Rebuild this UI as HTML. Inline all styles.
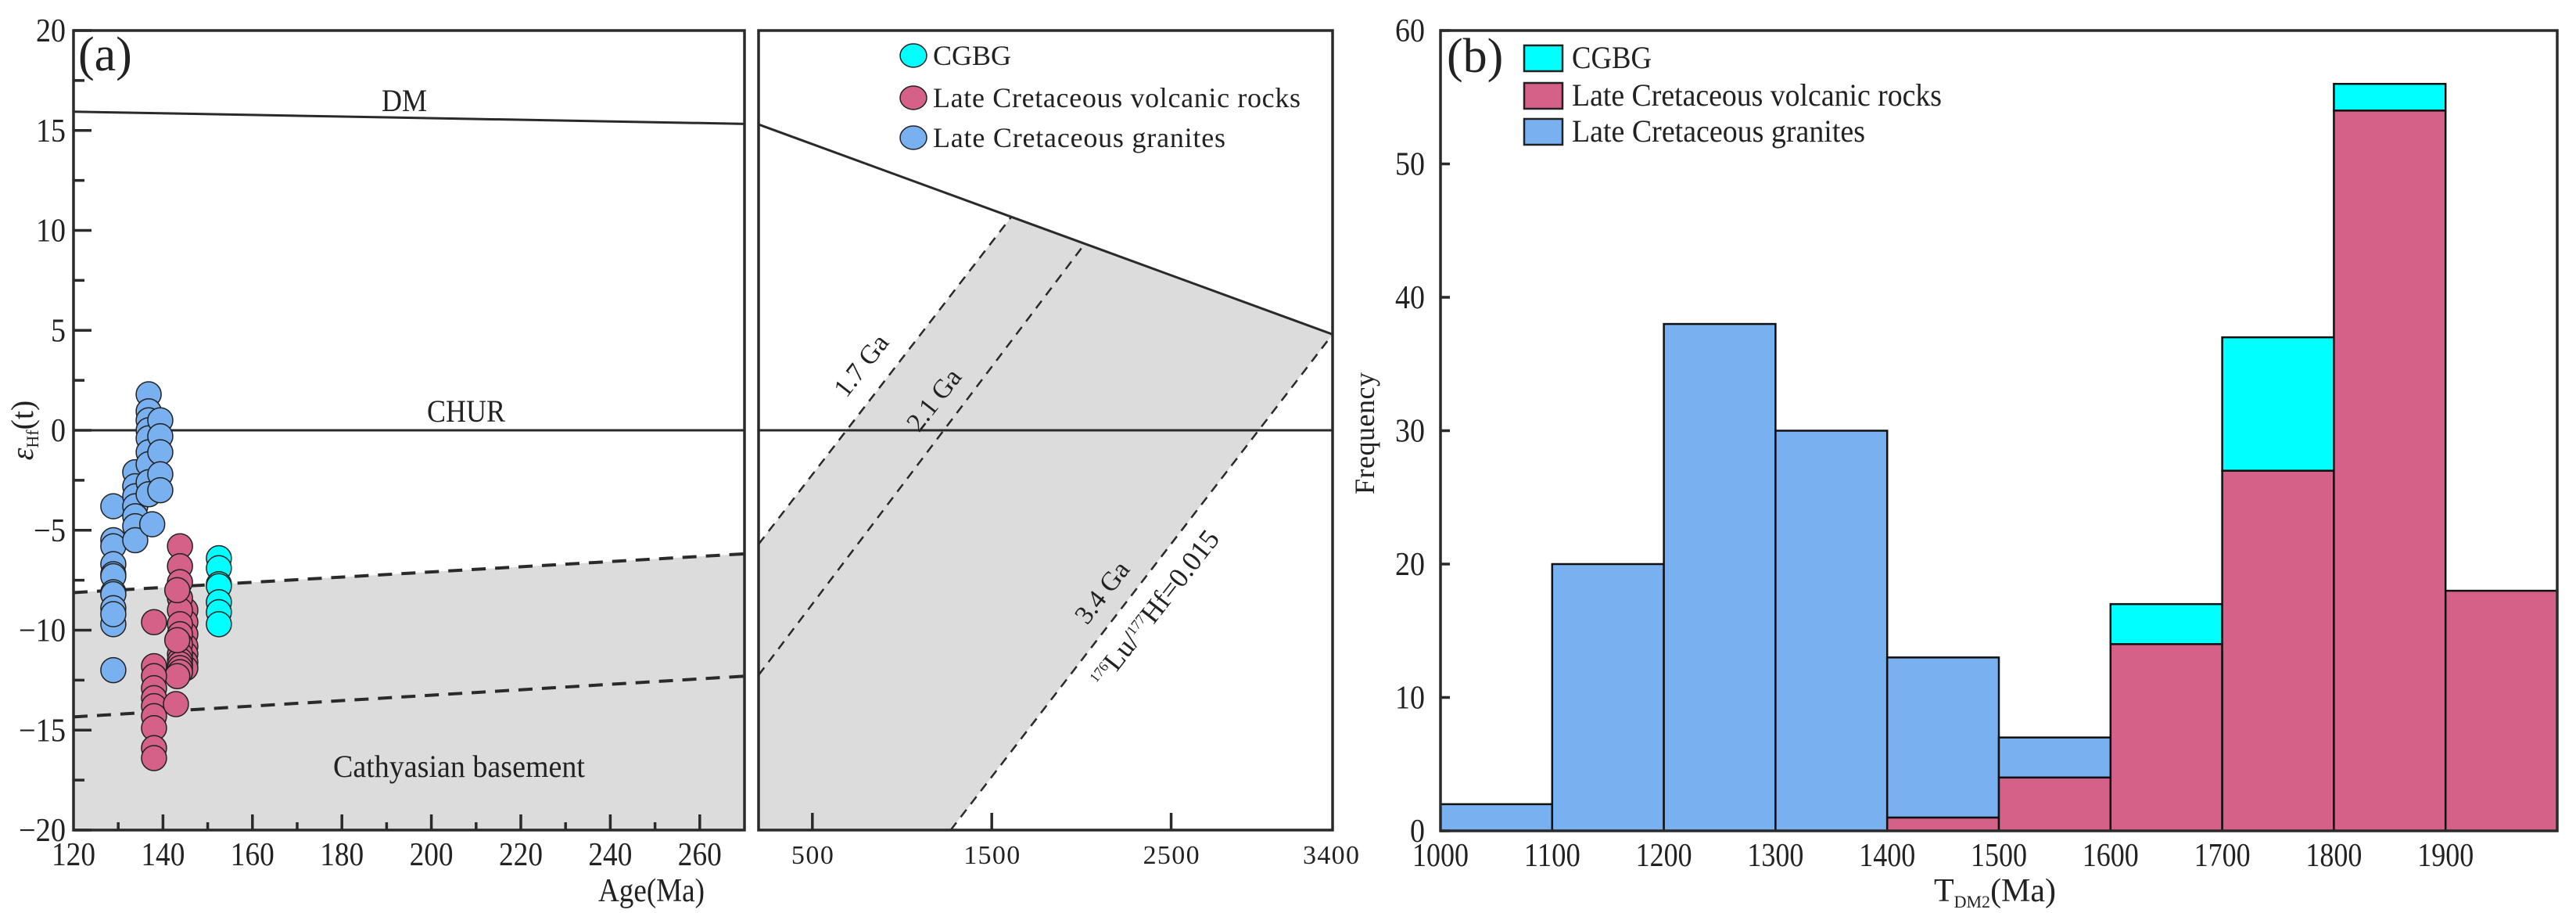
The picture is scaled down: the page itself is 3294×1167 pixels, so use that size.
<!DOCTYPE html>
<html><head><meta charset="utf-8"><style>
html,body{margin:0;padding:0;background:#fff;}
svg{display:block;font-family:"Liberation Serif",serif;}
</style></head><body>
<svg id="chart" width="3294" height="1167" viewBox="0 0 3294 1167" xmlns="http://www.w3.org/2000/svg">
<g id="pa1"></g>
<g id="pa2"></g>
<g id="pb"></g>
</svg>
<script>
// ---------- Panel (a) data ----------
const graniteAge = [128.9,128.9,128.9,128.9,128.9,128.9,128.9,128.9,128.9,128.9,128.9,128.9,
  133.8,133.8,133.8,133.8,133.8,133.8,133.8,
  136.8,136.8,136.8,136.8,136.8,136.8,136.8,136.8,136.8,
  139.4,139.4,139.4,139.4,139.4, 137.6];
const graniteEHf = [-3.8,-5.5,-5.8,-6.7,-7.2,-7.3,-8.1,-8.2,-8.9,-9.7,-9.2,-12.0,
  -2.1,-2.8,-3.3,-3.8,-4.3,-4.8,-5.5,
  1.8,0.95,0.5,0,-0.4,-1.1,-1.7,-2.6,-3.2,
  0.5,-0.3,-1.1,-2.2,-3.0, -4.7];
const volcAge = [145.0,145.0,145.0,145.0,145.0,145.0,145.0,
  143.8,143.8,143.8,143.8,143.8,143.8,143.8,143.8,143.8,143.8,143.8,143.8,143.8,
  143.2,143.2,143.2,
  138.0,138.0,138.0,138.0,138.0,138.0,138.0,138.0,138.0,138.0, 142.9];
const volcEHf = [-9.0,-9.6,-10.2,-10.8,-11.2,-11.6,-11.9,
  -5.8,-6.8,-7.6,-8.4,-9.0,-9.7,-10.2,-10.7,-11.2,-11.5,-11.7,-11.9,-12.1,
  -8.0,-10.5,-12.3,
  -9.6,-11.8,-12.3,-12.9,-13.4,-13.8,-14.3,-14.9,-15.9,-16.4, -13.7];
const cgbgAge = [152.5,152.5,152.5,152.5,152.5,152.5,152.5];
const cgbgEHf = [-6.4,-6.9,-7.7,-7.8,-8.6,-9.1,-9.7];
const dmLeft = [[120,15.94],[270,15.33]];
const dmRight = [[200,15.3],[3400,4.8]];
const upperDash = [[120,-8.12],[270,-6.18]];
const lowerDash = [[120,-14.34],[270,-12.3]];
const line17 = [[200,-5.7],[1611,10.7]];
const line21 = [[200,-12.25],[2016,9.3]];
const line34 = [[1271,-20],[3400,4.8]];
const yTicksA = [-20,-15,-10,-5,0,5,10,15,20];
const xTicksA1 = [120,140,160,180,200,220,240,260];
const xTicksA2 = [500,1500,2500];
const xLabelsA2 = [500,1500,2500,3400];
// ---------- Panel (b) data ----------
const binStarts = [1000,1100,1200,1300,1400,1500,1600,1700,1800,1900];
const volcCounts = [0,0,0,0,1,4,14,27,54,18];
const graniteCounts = [2,20,38,30,12,3,0,0,0,0];
const cgbgCounts = [0,0,0,0,0,0,3,10,2,0];
const yTicksB = [0,10,20,30,40,50,60];
const xLabelsB = [1000,1100,1200,1300,1400,1500,1600,1700,1800,1900];

const NS="http://www.w3.org/2000/svg";
const C_BLUE="#78b0f0", C_RED="#d56088", C_CYAN="#00ffff", C_GRAY="#dcdcdc", C_AX="#2a2a2a";
function el(parent,tag,attrs){const e=document.createElementNS(NS,tag);for(const k in attrs)e.setAttribute(k,attrs[k]);parent.appendChild(e);return e;}
function txt(parent,x,y,s,size,anchor,extra){const t=el(parent,'text',Object.assign({x:x,y:y,'font-size':size,'text-anchor':anchor||'start',fill:'#222'},extra||{}));t.textContent=s;return t;}

const Y0=39, Y1=1061;
const ya=v=>Y0+(20-v)/40*(Y1-Y0);
const xa1=v=>94+(v-120)/150*(952-94);
const xa2=v=>970+(v-200)/3200*(1704-970);

// ===== Panel a1 =====
const g1=document.getElementById('pa1');
let p=el(g1,'polygon',{points:[[xa1(upperDash[0][0]),ya(upperDash[0][1])],[xa1(upperDash[1][0]),ya(upperDash[1][1])],[xa1(270),ya(-20)],[xa1(120),ya(-20)]].map(a=>a.join(',')).join(' '),fill:C_GRAY});


function line(g,pts,fx,dash,w,name){const l=el(g,'line',{x1:fx(pts[0][0]),y1:ya(pts[0][1]),x2:fx(pts[1][0]),y2:ya(pts[1][1]),stroke:C_AX,'stroke-width':w});if(dash)l.setAttribute('stroke-dasharray',dash);

return l;}
line(g1,dmLeft,xa1,null,3,'dm-line');
line(g1,[[120,0],[270,0]],xa1,null,3,'chur-line');
line(g1,upperDash,xa1,'18,12',4,'upper-basement-line');
line(g1,lowerDash,xa1,'18,12',4,'lower-basement-line');
function dots(g,xs,ys,color,name){for(let i=0;i<xs.length;i++){const c=el(g,'circle',{cx:xa1(xs[i]),cy:ya(ys[i]),r:16,fill:color,stroke:'#222','stroke-width':1.5});

}}
dots(g1,graniteAge,graniteEHf,C_BLUE,'granite-point');
dots(g1,volcAge,volcEHf,C_RED,'volcanic-point');
dots(g1,cgbgAge,cgbgEHf,C_CYAN,'cgbg-point');
el(g1,'rect',{x:94,y:Y0,width:858,height:Y1-Y0,fill:'none',stroke:C_AX,'stroke-width':3.5});
for(let v=-20;v<=20;v+=2.5){const major=yTicksA.includes(v);el(g1,'line',{x1:94,y1:ya(v),x2:94+(major?23:14),y2:ya(v),stroke:C_AX,'stroke-width':3.5});}
yTicksA.forEach(v=>{const s=(v<0?'\u2212':'')+Math.abs(v);const t=txt(g1,84,ya(v)+14,s,42,'end',{textLength:(v<0?22:0)+String(Math.abs(v)).length*19,lengthAdjust:'spacingAndGlyphs'});

});
for(let v=130;v<270;v+=10){const major=xTicksA1.includes(v);el(g1,'line',{x1:xa1(v),y1:Y1,x2:xa1(v),y2:Y1-(major?20:10),stroke:C_AX,'stroke-width':3.5});}
xTicksA1.forEach(v=>{const t=txt(g1,xa1(v),1106,String(v),42,'middle',{textLength:56,lengthAdjust:'spacingAndGlyphs'});

});
let t=txt(g1,833,1152,'Age(Ma)',42,'middle',{textLength:136,lengthAdjust:'spacingAndGlyphs'});
t=txt(g1,517,142,'DM',40,'middle',{textLength:58,lengthAdjust:'spacingAndGlyphs'});
t=txt(g1,596,539,'CHUR',40,'middle',{textLength:100,lengthAdjust:'spacingAndGlyphs'});
t=txt(g1,426,993,'Cathyasian basement',40,'start',{textLength:322,lengthAdjust:'spacingAndGlyphs'});
t=txt(g1,100,90,'(a)',62,'start');
t=el(g1,'text',{x:0,y:0,'font-size':40,'text-anchor':'middle',fill:'#222',transform:'translate(42,550) rotate(-90)'});


t.innerHTML='<tspan font-style="italic">ε</tspan><tspan font-size="22" dy="7">Hf</tspan><tspan dy="-7">(t)</tspan>';

// ===== Panel a2 =====
const g2=document.getElementById('pa2');
p=el(g2,'polygon',{points:[[line17[0][0],line17[0][1]],[line17[1][0],line17[1][1]],[dmRight[1][0],dmRight[1][1]],[line34[0][0],line34[0][1]],[200,-20]].map(a=>xa2(a[0])+','+ya(a[1])).join(' '),fill:C_GRAY});


line(g2,dmRight,xa2,null,3,'dm-line-extended');
line(g2,[[200,0],[3400,0]],xa2,null,3,'chur-line-extended');
line(g2,line17,xa2,'12,9',2.5,'evolution-line-1-7ga');
line(g2,line21,xa2,'12,9',2.5,'evolution-line-2-1ga');
line(g2,line34,xa2,'12,9',2.5,'evolution-line-3-4ga');
el(g2,'rect',{x:970,y:Y0,width:734,height:Y1-Y0,fill:'none',stroke:C_AX,'stroke-width':3.5});
xTicksA2.forEach(v=>el(g2,'line',{x1:xa2(v),y1:Y1,x2:xa2(v),y2:Y1-22,stroke:C_AX,'stroke-width':3.5}));
xLabelsA2.forEach(v=>{const s=String(v);const t=txt(g2,v===3400?1702:xa2(v),1104,s,34,'middle',{textLength:s.length*18,lengthAdjust:'spacing'});

});
function rtext(g,x,y,s,size,name){const t=el(g,'text',{x:0,y:0,'font-size':size,'text-anchor':'middle',fill:'#222',transform:`translate(${x},${y}) rotate(-52)`});t.innerHTML=s;

return t;}
rtext(g2,1110,474,'1.7 Ga',34,'label-1-7ga');
rtext(g2,1203,518,'2.1 Ga',34,'label-2-1ga');
rtext(g2,1418,764,'3.4 Ga',34,'label-3-4ga');
rtext(g2,1486,785,'<tspan font-size="18" dy="-12">176</tspan><tspan dy="12">Lu/</tspan><tspan font-size="18" dy="-12">177</tspan><tspan dy="12">Hf=0.015</tspan>',36,'lu-hf-label');
const legA=[['CGBG',C_CYAN,100],['Late Cretaceous volcanic rocks',C_RED,470],['Late Cretaceous granites',C_BLUE,374]];
const legAy=[71,125,176];
legA.forEach((L,i)=>{const g=el(g2,'g',{});


el(g,'ellipse',{cx:1168,cy:legAy[i],rx:17,ry:15,fill:L[1],stroke:'#222','stroke-width':1.5});
txt(g,1193,legAy[i]+12,L[0],36,'start',{textLength:L[2],lengthAdjust:'spacing'});});

// ===== Panel b =====
const g3=document.getElementById('pb');
const BX0=1842, BX1=3270, BY0=39, BY1=1062;
const xb=v=>BX0+(v-1000)/1000*(BX1-BX0);
const yb=v=>BY1-v/60*(BY1-BY0);
binStarts.forEach((b,i)=>{
  let base=0;
  [[volcCounts[i],C_RED,'bar-volcanic'],[graniteCounts[i],C_BLUE,'bar-granite'],[cgbgCounts[i],C_CYAN,'bar-cgbg']].forEach(s=>{
    if(s[0]>0){const r=el(g3,'rect',{x:xb(b),y:yb(base+s[0]),width:xb(b+100)-xb(b),height:yb(base)-yb(base+s[0]),fill:s[1],stroke:'#111','stroke-width':2.5});
    
    }
    base+=s[0];
  });
});
el(g3,'rect',{x:BX0,y:BY0,width:BX1-BX0,height:BY1-BY0,fill:'none',stroke:C_AX,'stroke-width':3.5});
yTicksB.forEach(v=>{el(g3,'line',{x1:BX0,y1:yb(v),x2:BX0+12,y2:yb(v),stroke:C_AX,'stroke-width':3.5});
const t=txt(g3,1822,yb(v)+14,String(v),42,'end',{textLength:String(v).length*19,lengthAdjust:'spacingAndGlyphs'});

});
xLabelsB.forEach(v=>{const t=txt(g3,xb(v),1107,String(v),42,'middle',{textLength:72,lengthAdjust:'spacingAndGlyphs'});

});
t=el(g3,'text',{x:2551,y:1152,'font-size':42,'text-anchor':'middle',fill:'#222'});


t.innerHTML='T<tspan font-size="22" dy="8">DM2</tspan><tspan dy="-8">(Ma)</tspan>';
t=el(g3,'text',{x:0,y:0,'font-size':36,'text-anchor':'middle',fill:'#222',transform:'translate(1757,554) rotate(-90)','textLength':156,'lengthAdjust':'spacing'});


t.textContent='Frequency';
t=txt(g3,1850,92,'(b)',62,'start');
const legB=[['CGBG',C_CYAN,102],['Late Cretaceous volcanic rocks',C_RED,473],['Late Cretaceous granites',C_BLUE,375]];
const legBy=[58,106,152];
legB.forEach((L,i)=>{const g=el(g3,'g',{});


el(g,'rect',{x:1949,y:legBy[i],width:49,height:33,fill:L[1],stroke:'#222','stroke-width':2.5});
txt(g,2010,legBy[i]+29,L[0],40,'start',{textLength:L[2],lengthAdjust:'spacingAndGlyphs'});});
</script>
</body></html>
